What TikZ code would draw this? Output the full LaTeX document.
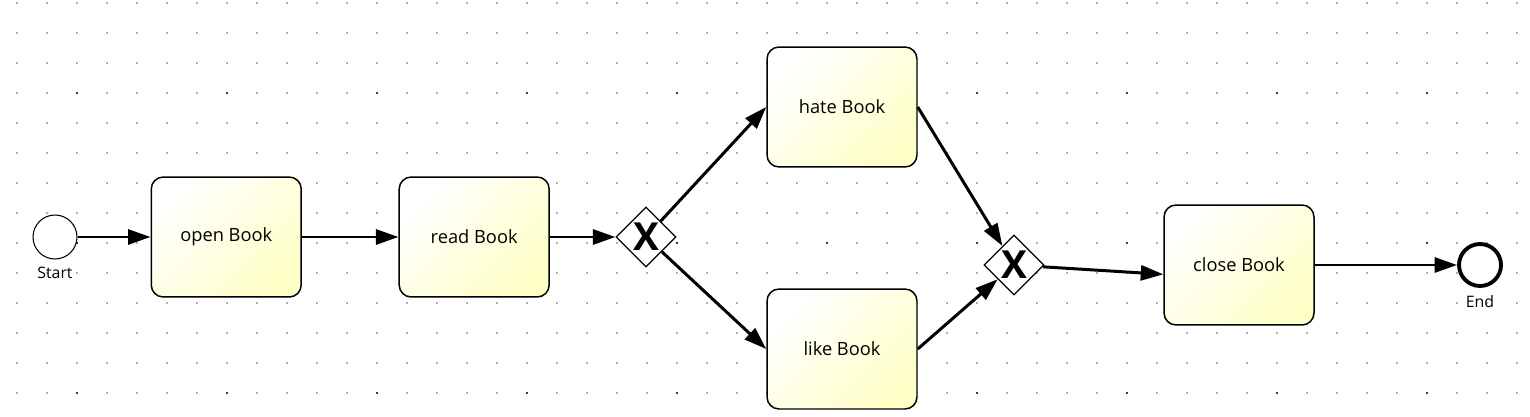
\documentclass[tikz,border=0pt]{standalone}
\usepackage{fontspec}
\setmainfont{Open Sans}
\usepackage{xcolor}
\usepackage{tikz}
\usetikzlibrary{arrows.meta,positioning,shapes.geometric}

\definecolor{taskyellow}{RGB}{255,255,200}
\definecolor{griddot}{RGB}{175,175,175}
\definecolor{majordot}{RGB}{60,60,60}

\begin{document}
\begin{tikzpicture}[
        x=0.02cm, y=-0.02cm,
        font=\fontsize{10.4}{12}\selectfont,
        task/.style   ={draw, line width=0.85pt, rounded corners=0.24cm, minimum width=3cm, minimum height=2.4cm,
                        top color=white, bottom color=taskyellow, shading angle=45},
        gate/.style   ={draw, diamond, fill=white, line width=0.7pt, minimum width=1.2cm, minimum height=1.2cm,
                        inner sep=0pt, font=\fontsize{22}{22}\selectfont\bfseries},
        startev/.style={draw, circle, fill=white, line width=0.6pt, minimum size=0.88cm, inner sep=0pt},
        endev/.style  ={draw, circle, fill=white, line width=2.2pt, minimum size=0.84cm, inner sep=0pt},
        lbl/.style    ={font=\fontsize{9}{10}\selectfont, inner sep=1pt},
        flow/.style   ={-{Triangle[length=4.5mm, width=3mm]}, line width=1.7pt},
    ]
        \useasboundingbox (0,0) rectangle (1530,416);

        % --- Raster ---
        \foreach \gx in {17,47,...,1517}
            \foreach \gy in {3,33,...,393}
                \fill[griddot] (\gx-1,\gy-1) rectangle (\gx+1,\gy+1);
        \foreach \gx in {77,227,...,1427}
            \foreach \gy in {93,243,393}
                \fill[majordot] (\gx-1,\gy-1) rectangle (\gx+1,\gy+1);

        % --- Hauptpfad ---
        \node[startev, label={[lbl, label distance=3pt]below:Start}] (start) at (55,237) {};
        \node[task, right=1.46cm of start] (open) {open Book};
        \node[task, right=1.93cm of open] (read) {read Book};
        \node[gate, right=1.31cm of read] (gw1) {X};

        % --- Verzweigung ---
        \node[task] (hate) at (842,107) {hate Book};
        \node[task] (like) at (842,349) {like Book};
        \node[gate] (gw2) at (1014,265) {X};

        % --- Abschluss ---
        \node[task] (close) at (1239,265) {close Book};
        \node[endev, label={[lbl, label distance=3pt]below:End}] (endev) at (1480,265) {};

        % --- Pfeile ---
        \draw[flow] (start) -- (open);
        \draw[flow] (open) -- (read);
        \draw[flow] (read) -- (gw1);
        \draw[flow] (gw1) -- (hate.west);
        \draw[flow] (gw1) -- (like.west);
        \draw[flow] (hate.east) -- (gw2);
        \draw[flow] (like.east) -- (gw2);
        \draw[flow] (gw2) -- (close.187);
        \draw[flow] (close) -- (endev);
    \end{tikzpicture}
\end{document}
